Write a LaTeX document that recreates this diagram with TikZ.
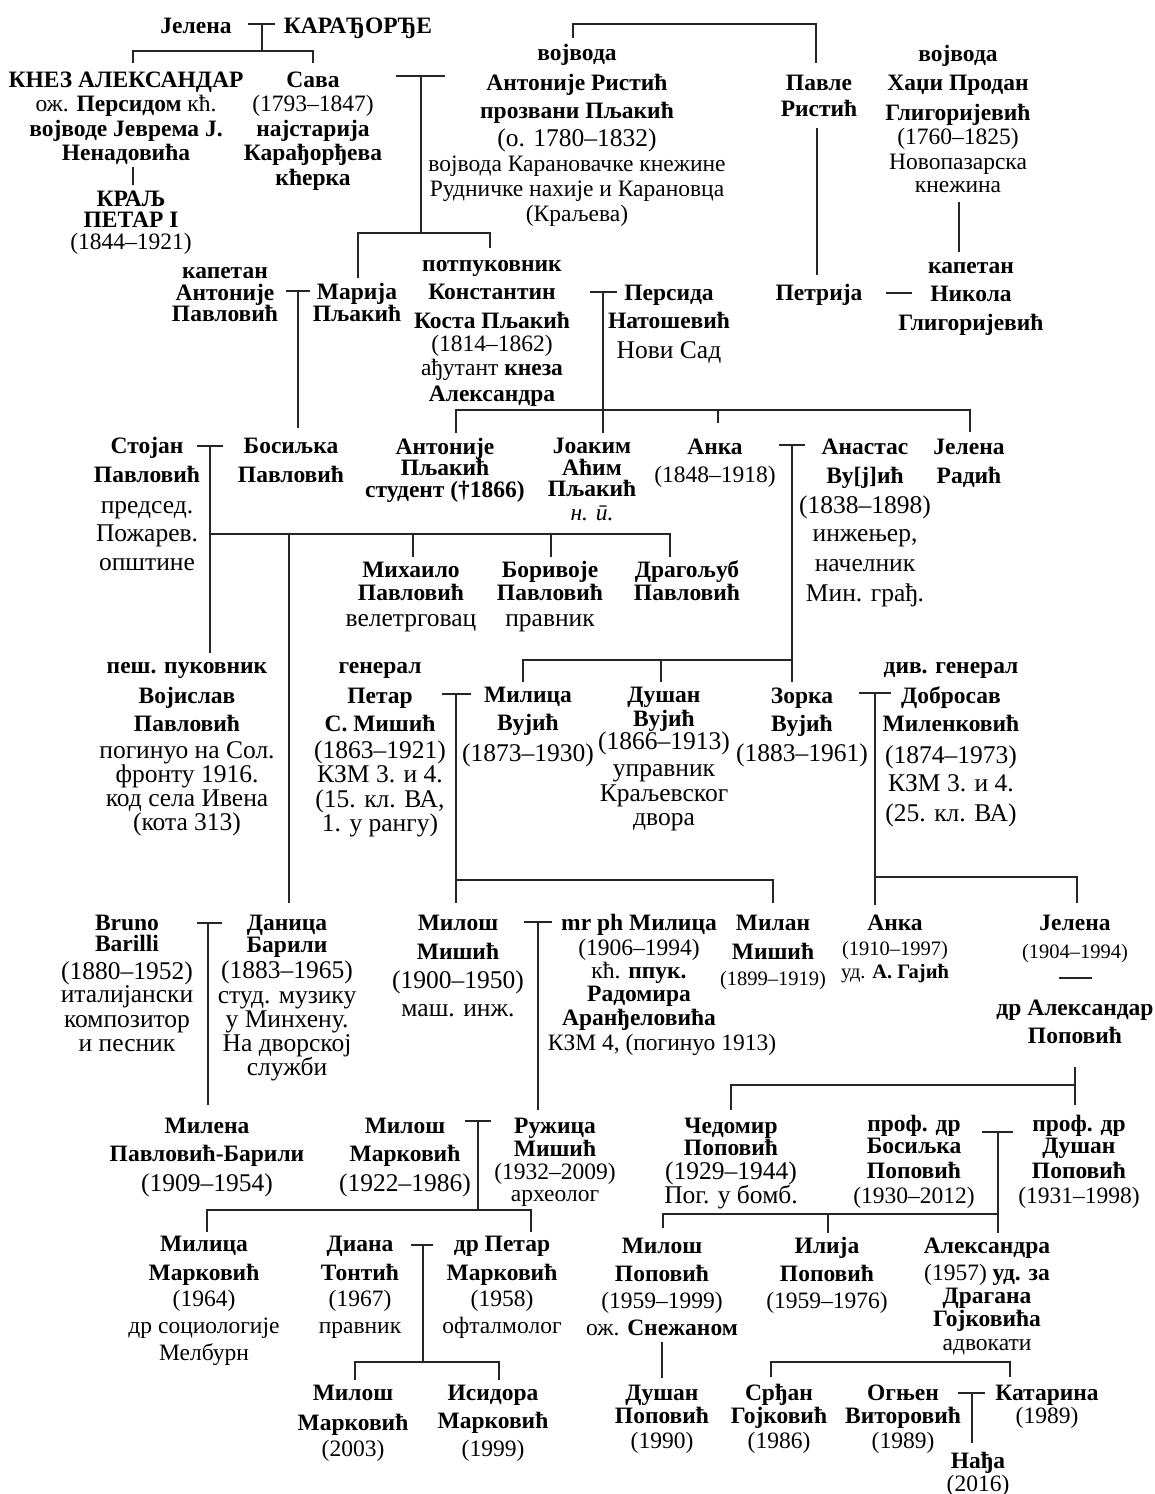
\documentclass[tikz,border=0pt]{standalone}
\usepackage{fontspec}
\setmainfont{Liberation Serif}
\newcommand\rgl[1]{{\mdseries #1}}
\newcommand\bigtxt{\mdseries\fontsize{25.5}{24.5}\selectfont}
\newcommand\smalltxt{\fontsize{20.5}{24.5}\selectfont}
\newcommand\pers[4]{\node[pp] (#3) at (#1,#2+8) {\begin{tabular}[t]{@{}c@{}}#4\end{tabular}};}
\begin{document}
\begin{tikzpicture}[x=1pt,y=-1pt,
  pp/.style={anchor=base,inner sep=0pt,font=\bfseries\fontsize{23.5}{24.5}\selectfont},
  ln/.style={line width=1.2pt,black!85}]
\useasboundingbox[fill=white] (0,0) rectangle (1155,1494);

% ---------- people ----------
\pers{196}{25}{jelena0}{Јелена}
\pers{358}{25}{karadj}{КАРАЂОРЂЕ}
\pers{126}{79}{knez}{КНЕЗ АЛЕКСАНДАР\\ \rgl{ож.} Персидом \rgl{кћ.}\\ војводе Јеврема Ј.\\ Ненадовића}
\pers{131}{198}{kralj}{КРАЉ\\[-3pt] ПЕТАР I\\[-3pt] \rgl{(1844–1921)}}
\pers{313}{79}{sava}{Сава\\ \rgl{(1793–1847)}\\ најстарија\\ Карађорђева\\ кћерка}
\pers{577}{52}{antonijeR}{војвода\\[5.5pt] Антоније Ристић\\[3.5pt] прозвани Пљакић\\[3.5pt] \bigtxt (о. 1780–1832)\\[0.5pt] \rgl{војвода Карановачке кнежине}\\[0.5pt] \rgl{Рудничке нахије и Карановца}\\ \rgl{(Краљева)}}
\pers{819}{82}{pavleR}{Павле\\[1.5pt] Ристић}
\pers{958}{53}{hadzi}{војвода\\[4.5pt] Хаџи Продан\\[5.5pt] Глигоријевић\\ \rgl{(1760–1825)}\\ \rgl{Новопазарска}\\[-1pt] \rgl{кнежина}}
\pers{225}{270}{kapetanA}{капетан\\[-2.5pt] Антоније\\[-3pt] Павловић}
\pers{357}{291}{marija}{Марија\\[-2.5pt] Пљакић}
\pers{492}{263}{kosta}{потпуковник\\[3.5pt] Константин\\[4.5pt] Коста Пљакић\\[-1.5pt] \rgl{(1814–1862)}\\ \rgl{ађутант} кнеза\\[1.5pt] Александра}
\pers{669}{292}{persida}{Персида\\[3.5pt] Натошевић\\[5.5pt] \bigtxt Нови Сад}
\pers{819}{292}{petrija}{Петрија}
\pers{971}{265}{nikola}{капетан\\[3.5pt] Никола\\[4.5pt] Глигоријевић}
\pers{147}{445}{stojan}{Стојан\\[4.5pt] Павловић\\[6.5pt] \bigtxt председ.\\[3.5pt] \bigtxt Пожарев.\\[4.5pt] \bigtxt општине}
\pers{291}{445}{bosiljka}{Босиљка\\[4.5pt] Павловић}
\pers{445}{446}{antonijeP}{Антоније\\[-3pt] Пљакић\\[-3pt] студент (†1866)}
\pers{592}{445}{joakim}{Јоаким\\[-2.5pt] Аћим\\[-3pt] Пљакић\\[-0.5pt] \mdseries\itshape н. ū.}
\pers{715}{446}{anka1}{Анка\\[3.5pt] \rgl{(1848–1918)}}
\pers{865}{446}{anastas}{Анастас\\[4.5pt] Ву[ј]ић\\[5.5pt] \bigtxt (1838–1898)\\[3.5pt] \bigtxt инжењер,\\[5.5pt] \bigtxt начелник\\[4.5pt] \bigtxt Мин. грађ.}
\pers{969}{446}{jelenaR}{Јелена\\[4.5pt] Радић}
\pers{411}{569}{mihailo}{Михаило\\[-1.5pt] Павловић\\[1.5pt] \bigtxt велетрговац}
\pers{550}{569}{borivoje}{Боривоје\\[-1.5pt] Павловић\\[1.5pt] \bigtxt правник}
\pers{687}{569}{dragoljub}{Драгољуб\\[-1.5pt] Павловић}
\pers{187}{665}{vojislav}{пеш. пуковник\\[5.5pt] Војислав\\[3.5pt] Павловић\\[2.5pt] \bigtxt погинуо на Сол.\\[-1pt] \bigtxt фронту 1916.\\ \bigtxt код села Ивена\\[-1pt] \bigtxt (кота 313)}
\pers{380}{665}{misic}{генерал\\[5.5pt] Петар\\[3.5pt] С. Мишић\\[2.5pt] \bigtxt (1863–1921)\\[-1pt] \bigtxt КЗМ 3. и 4.\\ \bigtxt (15. кл. ВА,\\[-1pt] \bigtxt 1. у рангу)}
\pers{528}{694}{milicaV}{Милица\\[3.5pt] Вујић\\[6.5pt] \bigtxt (1873–1930)}
\pers{664}{694}{dusanV}{Душан\\[-0.5pt] Вујић\\[-1.5pt] \bigtxt (1866–1913)\\[2pt] \bigtxt управник\\[0.5pt] \bigtxt Краљевског\\[-0.5pt] \bigtxt двора}
\pers{802}{695}{zorka}{Зорка\\[3.5pt] Вујић\\[5.5pt] \bigtxt (1883–1961)}
\pers{951}{665}{dobrosav}{див. генерал\\[5.5pt] Добросав\\[3.5pt] Миленковић\\[7.5pt] \bigtxt (1874–1973)\\[3.5pt] \bigtxt КЗМ 3. и 4.\\[4.5pt] \bigtxt (25. кл. ВА)}
\pers{127}{922}{barilli}{Bruno\\[-3pt] Barilli\\[2.5pt] \bigtxt (1880–1952)\\[-1pt] \bigtxt италијански\\ \bigtxt композитор\\[-0.5pt] \bigtxt и песник}
\pers{287}{922}{danica}{Даница\\[-2.5pt] Барили\\[1.5pt] \bigtxt (1883–1965)\\[0.5pt] \bigtxt студ. музику\\[-1pt] \bigtxt у Минхену.\\ \bigtxt На дворској\\[-2pt] \bigtxt служби}
\pers{458}{922}{milosM}{Милош\\[4.5pt] Мишић\\[4.5pt] \bigtxt (1900–1950)\\[3.5pt] \bigtxt маш. инж.}
\pers{639}{922}{milicaA}{mr ph Милица\\[0.5pt] \rgl{(1906–1994)}\\[-1.5pt] \rgl{кћ.} ппук.\\[-1.5pt] Радомира\\ Аранђеловића\\[0.5pt] \hspace{46pt}\makebox[0pt]{\rgl{КЗМ 4, (погинуо 1913)}}}
\pers{773}{922}{milan}{Милан\\[4.5pt] Мишић\\[1.5pt] \mdseries\smalltxt (1899–1919)}
\pers{895}{922}{anka2}{Анка\\[0.5pt] \mdseries\smalltxt (1910–1997)\\[-1.5pt] \smalltxt\rgl{уд.} А. Гајић}
\pers{1075}{922}{jelena2}{Јелена\\[3.5pt] \mdseries\smalltxt (1904–1994)}
\pers{1075}{1007}{aleksandarP}{др Александар\\[3.5pt] Поповић}
\pers{207}{1125}{milena}{Милена\\[3.5pt] Павловић-Барили\\[5.5pt] \bigtxt (1909–1954)}
\pers{405}{1125}{milosMk}{Милош\\[3.5pt] Марковић\\[5.5pt] \bigtxt (1922–1986)}
\pers{555}{1125}{ruzica}{Ружица\\[-1.5pt] Мишић\\[-1.5pt] \rgl{(1932–2009)}\\[-2pt] \rgl{археолог}}
\pers{731}{1125}{cedomir}{Чедомир\\[-2.5pt] Поповић\\[-1pt] \bigtxt (1929–1944)\\[-1pt] \bigtxt Пог. у бомб.}
\pers{914}{1123}{bosiljkaP}{проф. др\\[-2.5pt] Босиљка\\[0.5pt] Поповић\\[0.5pt] \rgl{(1930–2012)}}
\pers{1079}{1123}{dusanP}{проф. др\\[-2.5pt] Душан\\[0.5pt] Поповић\\[0.5pt] \rgl{(1931–1998)}}
\pers{204}{1243}{milicaM}{Милица\\[4.5pt] Марковић\\[1.5pt] \rgl{(1964)}\\[2.5pt] \rgl{др социологије}\\[2.5pt] \rgl{Мелбурн}}
\pers{360}{1243}{diana}{Диана\\[4.5pt] Тонтић\\[1.5pt] \rgl{(1967)}\\[2.5pt] \rgl{правник}}
\pers{502}{1243}{petarM}{др Петар\\[4.5pt] Марковић\\[1.5pt] \rgl{(1958)}\\[2.5pt] \rgl{офталмолог}}
\pers{662}{1245}{milosP}{Милош\\[3.5pt] Поповић\\[2.5pt] \rgl{(1959–1999)}\\[2.5pt] \rgl{ож.} Снежаном}
\pers{827}{1245}{ilija}{Илија\\[3.5pt] Поповић\\[2.5pt] \rgl{(1959–1976)}}
\pers{987}{1245}{aleksandra}{Александра\\[2.5pt] \rgl{(1957)} уд. за\\[-1.5pt] Драгана\\[-1.5pt] Гојковића\\[-0.5pt] \rgl{адвокати}}
\pers{353}{1392}{milosMk2}{Милош\\[5.5pt] Марковић\\[1.5pt] \rgl{(2003)}}
\pers{493}{1392}{isidora}{Исидора\\[3.5pt] Марковић\\[3.5pt] \rgl{(1999)}}
\pers{662}{1392}{dusanPop}{Душан\\[-1.5pt] Поповић\\[0.5pt] \rgl{(1990)}}
\pers{779}{1392}{srdjan}{Срђан\\[-1.5pt] Гојковић\\[0.5pt] \rgl{(1986)}}
\pers{903}{1392}{ognjen}{Огњен\\[-1.5pt] Виторовић\\[0.5pt] \rgl{(1989)}}
\pers{1047}{1392}{katarina}{Катарина\\[-1.5pt] \rgl{(1989)}}
\pers{978}{1460}{nadja}{Нађа\\[-1.5pt] \rgl{(2016)}}

% ---------- junction points ----------
\coordinate (mKar) at (262,24);   \coordinate (cKar) at (262,51);
\coordinate (mRis) at (421,76);   \coordinate (cRis) at (421,233);
\coordinate (mPav) at (298,291);  \coordinate (cPav) at (298,428);
\coordinate (mKos) at (603,292);  \coordinate (cKos) at (603,410);
\coordinate (mSto) at (210,446);  \coordinate (cSto) at (210,534);
\coordinate (mVuj) at (792,445);  \coordinate (cVuj) at (792,660);
\coordinate (mMis) at (456,694);  \coordinate (cMis) at (456,880);
\coordinate (mMil) at (875,693);  \coordinate (cMil) at (875,877);
\coordinate (mBar) at (208,923);
\coordinate (mMMi) at (538,922);
\coordinate (cPop) at (1075,1085);
\coordinate (mMar) at (478,1121); \coordinate (cMar) at (478,1210);
\coordinate (mTon) at (423,1245); \coordinate (cTon) at (423,1362);
\coordinate (mDus) at (998,1132); \coordinate (cDus) at (998,1214);
\coordinate (mKat) at (972,1393);

% ---------- connectors ----------
\draw[ln] ([xshift=-14pt]mKar) -- ([xshift=13pt]mKar);
\draw[ln] (mKar) -- (cKar);
\draw[ln] (133,63) |- (313,51) -- (313,63);
\draw[ln] (133,167) -- (133,185);
\draw[ln] (573,38) |- (816,24) -- (816,63);
\draw[ln] ([xshift=-25pt]mRis) -- ([xshift=24pt]mRis);
\draw[ln] (mRis) -- (cRis);
\draw[ln] (358,278) |- (490,233) -- (490,248);
\draw[ln] (817,128) -- (817,275);
\draw[ln] (959,202) -- (959,252);
\draw[ln] (886,293) -- (912,293);
\draw[ln] ([xshift=-12pt]mPav) -- ([xshift=12pt]mPav);
\draw[ln] (mPav) -- (cPav);
\draw[ln] ([xshift=-13pt]mKos) -- ([xshift=14pt]mKos);
\draw[ln] (mKos) -- (603,433);
\draw[ln] (456,433) |- (970,410) -- (970,432);
\draw[ln] (718,410) -- (718,423);
\draw[ln] ([xshift=-13pt]mSto) -- ([xshift=13pt]mSto);
\draw[ln] (mSto) -- (210,653);
\draw[ln] (cSto) -- (670,534) -- (670,557);
\draw[ln] (289,534) -- (289,903);
\draw[ln] (413,534) -- (413,557);
\draw[ln] (551,534) -- (551,557);
\draw[ln] ([xshift=-13pt]mVuj) -- ([xshift=13pt]mVuj);
\draw[ln] (mVuj) -- (792,682);
\draw[ln] (523,682) |- (cVuj);
\draw[ln] (661,660) -- (661,682);
\draw[ln] ([xshift=-14pt]mMis) -- ([xshift=15pt]mMis);
\draw[ln] (mMis) -- (456,903);
\draw[ln] (cMis) -| (773,903);
\draw[ln] ([xshift=-16pt]mMil) -- ([xshift=16pt]mMil);
\draw[ln] (mMil) -- (875,905);
\draw[ln] (cMil) -| (1077,903);
\draw[ln] ([xshift=-11pt]mBar) -- ([xshift=14pt]mBar);
\draw[ln] (mBar) -- (208,1105);
\draw[ln] ([xshift=-14pt]mMMi) -- ([xshift=14pt]mMMi);
\draw[ln] (mMMi) -- (538,1110);
\draw[ln] (1059,978) -- (1092,978);
\draw[ln] (1075,1067) -- (1075,1105);
\draw[ln] (cPop) -| (731,1110);
\draw[ln] ([xshift=-13pt]mMar) -- ([xshift=13pt]mMar);
\draw[ln] (mMar) -- (cMar);
\draw[ln] (207,1232) |- (531,1210) -- (531,1232);
\draw[ln] ([xshift=-12pt]mTon) -- ([xshift=10pt]mTon);
\draw[ln] (mTon) -- (cTon);
\draw[ln] (355,1380) |- (499,1362) -- (499,1380);
\draw[ln] ([xshift=-16pt]mDus) -- ([xshift=15pt]mDus);
\draw[ln] (mDus) -- (998,1233);
\draw[ln] (663,1228) |- (cDus);
\draw[ln] (828,1214) -- (828,1233);
\draw[ln] (662,1342) -- (662,1378);
\draw[ln] (771,1377) |- (1010,1362) -- (1010,1377);
\draw[ln] ([xshift=-14pt]mKat) -- ([xshift=13pt]mKat);
\draw[ln] (mKat) -- (972,1443);
\end{tikzpicture}
\end{document}
